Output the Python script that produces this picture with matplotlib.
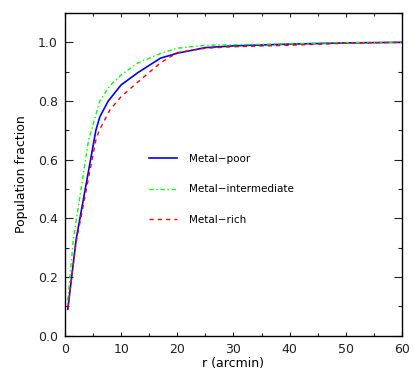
import numpy as np
import matplotlib
matplotlib.use('Agg')
import matplotlib.pyplot as plt
from matplotlib.ticker import MultipleLocator

# cumulative radial distributions
r_poor = [0.5, 2.0, 5.5, 6.2, 7.7, 10, 13, 17, 20, 25, 30, 40, 50, 60]
f_poor = [0.09, 0.33, 0.70, 0.746, 0.80, 0.855, 0.897, 0.946, 0.963, 0.982, 0.988, 0.994, 0.998, 1.0]

r_int = [0.5, 1.5, 4.2, 4.7, 6.2, 8, 10, 13, 17, 20, 25, 40, 50, 60]
f_int = [0.12, 0.33, 0.667, 0.70, 0.80, 0.852, 0.889, 0.93, 0.962, 0.98, 0.99, 0.995, 0.999, 1.0]

r_rich = [0.5, 2.0, 5.5, 6.1, 8, 10, 13, 17, 20, 25, 30, 40, 50, 60]
f_rich = [0.095, 0.32, 0.667, 0.70, 0.77, 0.815, 0.865, 0.93, 0.965, 0.98, 0.985, 0.99, 0.997, 1.0]

labels = ['Metal\u2212poor', 'Metal\u2212intermediate', 'Metal\u2212rich']


def main():
    fig = plt.figure(figsize=(4.15, 3.88), dpi=100)
    ax = fig.add_axes([0.1566, 0.1348, 0.8121, 0.8317])

    ax.plot(r_poor, f_poor, color='#0000ff', lw=1.2, label=labels[0])
    ax.plot(r_int, f_int, color='#00ff00', lw=1.0, dashes=(3, 2, 1, 2), label=labels[1])
    ax.plot(r_rich, f_rich, color='#ff0000', lw=1.0, dashes=(3, 3), label=labels[2])

    ax.set_xlim(0, 60)
    ax.set_ylim(0, 1.1)
    ax.xaxis.set_major_locator(MultipleLocator(10))
    ax.xaxis.set_minor_locator(MultipleLocator(5))
    ax.yaxis.set_major_locator(MultipleLocator(0.2))
    ax.yaxis.set_minor_locator(MultipleLocator(0.1))
    ax.yaxis.set_major_formatter(plt.FormatStrFormatter('%.1f'))

    ax.tick_params(axis='both', which='both', direction='in', top=True, right=True,
                   labelsize=9, colors='#222222', width=0.8, pad=5)
    ax.tick_params(axis='x', which='major', length=3.2)
    ax.tick_params(axis='x', which='minor', length=2.4)
    ax.tick_params(axis='y', which='major', length=5.5)
    ax.tick_params(axis='y', which='minor', length=2.6)
    for s in ax.spines.values():
        s.set_linewidth(1.0)

    ax.set_xlabel('r (arcmin)', fontsize=9, labelpad=1)
    ax.set_ylabel('Population fraction', fontsize=9, labelpad=7)

    ax.legend(loc='upper left', bbox_to_anchor=(0.22, 0.592), frameon=False, fontsize=7.5,
              handlelength=2.7, handletextpad=1.15, labelspacing=1.95)

    fig.savefig('out.png', dpi=100)


if __name__ == '__main__':
    main()
